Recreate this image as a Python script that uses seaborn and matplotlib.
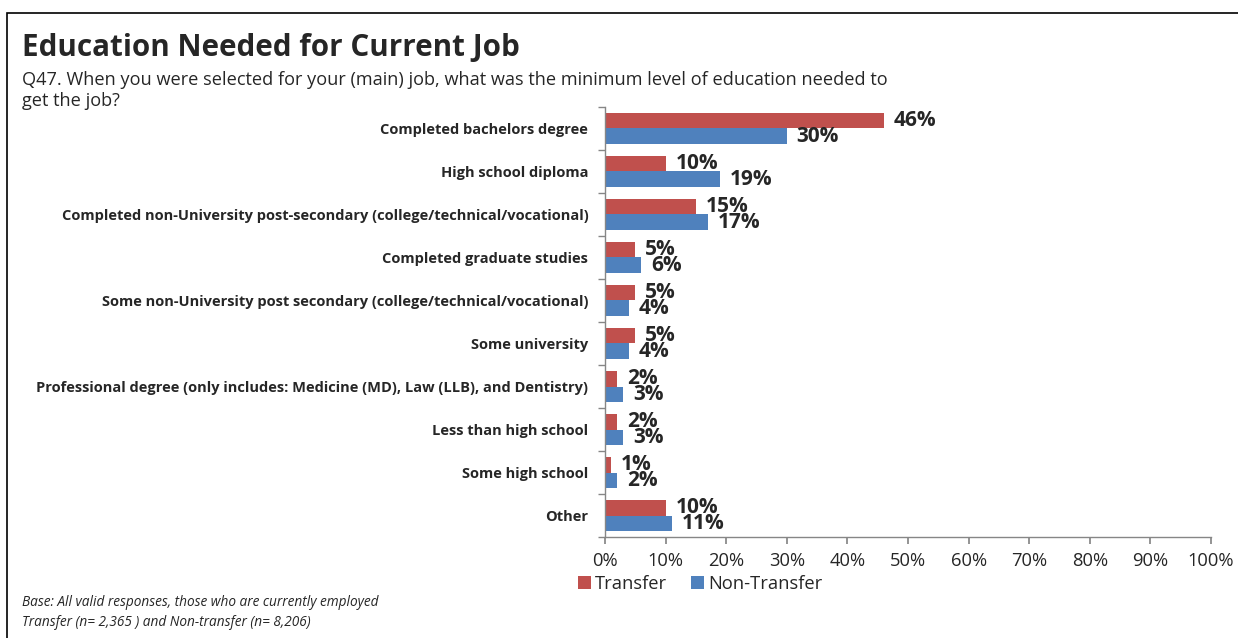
import numpy as np
import pandas as pd
import seaborn as sns
import matplotlib.pyplot as plt
from matplotlib.patches import Rectangle
from matplotlib.ticker import FuncFormatter

#data
categories = ["Completed bachelors degree",
              "High school diploma",
              "Completed non-University post-secondary (college/technical/vocational)",
              "Completed graduate studies",
              "Some non-University post secondary (college/technical/vocational)",
              "Some university",
              "Professional degree (only includes: Medicine (MD), Law (LLB), and Dentistry)",
              "Less than high school",
              "Some high school",
              "Other"]
transfer = [46, 10, 15, 5, 5, 5, 2, 2, 1, 10]
non_transfer = [30, 19, 17, 6, 4, 4, 3, 3, 2, 11]
groups = ["Transfer", "Non-Transfer"]

df = pd.DataFrame({"cat": categories * 2,
                   "grp": [groups[0]] * len(categories) + [groups[1]] * len(categories),
                   "val": transfer + non_transfer})

sns.set_theme(style="white")
plt.rcParams['font.family'] = ['Open Sans', 'DejaVu Sans']

fig = plt.figure(figsize=(12.38, 6.38), dpi=100)
ax = fig.add_axes([0.4887, 0.1583, 0.4895, 0.674])

sns.barplot(data=df, y="cat", x="val", hue="grp", order=categories, hue_order=groups,
            palette=["#C0504D", "#4F81BD"], width=0.72, orient="h", ax=ax,
            edgecolor="none", saturation=1)

#data labels
for cont in ax.containers:
    ax.bar_label(cont, fmt="%.0f%%", padding=7, fontsize=15, fontweight="bold")

ax.set_xlim(0, 100)
ax.set_xticks(np.arange(0, 101, 10))
ax.xaxis.set_major_formatter(FuncFormatter(lambda v, p: f"{v:.0f}%"))
ax.set_xlabel("")
ax.set_ylabel("")
ax.tick_params(axis="x", labelsize=13.2, length=5, color="#868686", bottom=True, pad=6)
ax.tick_params(axis="y", labelsize=10.5, length=5, color="#868686", left=True, pad=12)
for lab in ax.get_yticklabels():
    lab.set_fontweight("bold")
ax.set_yticks(np.arange(len(categories) + 1) - 0.5, minor=True)
ax.tick_params(axis="y", which="minor", length=5, color="#868686", left=True)
ax.tick_params(axis="y", which="major", length=0)
for s in ["top", "right"]:
    ax.spines[s].set_visible(False)
for s in ["left", "bottom"]:
    ax.spines[s].set_color("#868686")
    ax.spines[s].set_linewidth(1)
ax.set_ylim(len(categories) - 0.5, -0.5)

ax.legend(loc="upper left", bbox_to_anchor=(-0.045, -0.088), ncol=2, frameon=False,
          fontsize=13.2, handlelength=0.7, handleheight=0.7, handletextpad=0.25,
          columnspacing=1.3, borderpad=0, borderaxespad=0)

fig.text(22/1238, 1-48/638, "Education Needed for Current Job", fontsize=21.3, fontweight="bold", va="center")
fig.text(22/1238, 1-80/638, "Q47. When you were selected for your (main) job, what was the minimum level of education needed to",
         fontsize=13.1, va="center")
fig.text(22/1238, 1-101/638, "get the job?", fontsize=13.1, va="center")
fig.text(22/1238, 1-602/638, "Base: All valid responses, those who are currently employed", fontsize=9.8, style="italic", va="center")
fig.text(22/1238, 1-622/638, "Transfer (n= 2,365 ) and Non-transfer (n= 8,206)", fontsize=9.8, style="italic", va="center")

fig.patches.append(Rectangle((7/1238, -0.1), 1.2, 1-13/638 + 0.1, transform=fig.transFigure,
                             fill=False, edgecolor="black", linewidth=1.2))

fig.savefig("out.png", dpi=100)
